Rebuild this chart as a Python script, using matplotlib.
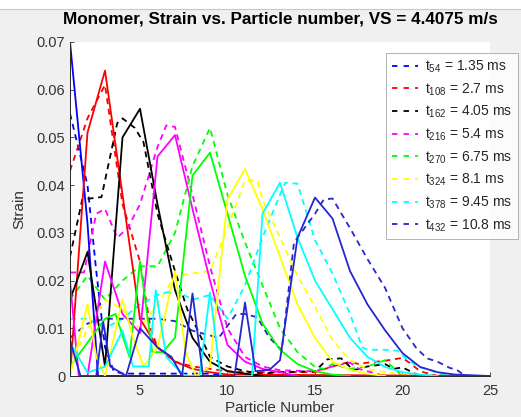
import matplotlib
matplotlib.use('Agg')
import matplotlib.pyplot as plt
from matplotlib.patches import Rectangle
from matplotlib.lines import Line2D

plt.rcParams['font.family'] = ['Liberation Sans', 'DejaVu Sans']
plt.rcParams['mathtext.default'] = 'regular'

# polylines: (particle number, strain)
t54_solid = ([1, 2, 2.6, 4, 25],
             [0.070, 0.032, 0.0, 0.0, 0.0])
t54_dash = ([1, 2, 2.5, 3, 3.5, 4, 9, 10, 25],
            [0.055, 0.040, 0.022, 0.006, 0.001, 0.0005, 0.0005, 0.0, 0.0])

t108_solid = ([1, 2, 3, 4, 5, 6, 7, 8, 9, 10, 25],
              [0.0, 0.051, 0.064, 0.038, 0.012, 0.006, 0.003, 0.0015, 0.0008, 0.0003, 0.0])
t108_dash = ([1, 2, 3, 4, 5, 5.6, 6, 7, 8, 9, 10, 11, 15, 16, 17, 17.5, 18, 19, 20, 20.5, 21, 22],
             [0.043, 0.054, 0.061, 0.036, 0.024, 0.010, 0.006, 0.003, 0.002, 0.0015, 0.001,
              0.0008, 0.0008, 0.002, 0.003, 0.0025, 0.0028, 0.0032, 0.0038, 0.0025, 0.001, 0.0])

t162_solid = ([1, 2, 3, 4, 5, 6, 7, 8, 9, 10, 11, 12],
              [0.016, 0.026, 0.002, 0.050, 0.056, 0.036, 0.018, 0.008, 0.003, 0.001, 0.0005, 0.0])
t162_dash = ([1, 1.7, 2.8, 3.7, 4.0, 4.7, 5.2, 6, 7, 7.7, 8.3, 9, 10, 11, 12, 13, 15, 15.7,
              16.5, 17.2, 18, 19, 19.5, 20, 21],
             [0.025, 0.037, 0.0375, 0.053, 0.054, 0.052, 0.049, 0.034, 0.022, 0.014, 0.0096,
              0.004, 0.002, 0.001, 0.0005, 0.0008, 0.001, 0.0035, 0.0037, 0.0012, 0.002,
              0.0025, 0.0015, 0.0018, 0.0])

t216_solid = ([1, 1.5, 2, 3, 4, 5, 6, 7, 8, 9, 10, 11, 12, 13, 14],
              [0.020, 0.0, 0.0, 0.024, 0.013, 0.009, 0.046, 0.0505, 0.035, 0.020, 0.0065,
               0.003, 0.0015, 0.0008, 0.0])
t216_dash = ([1, 1.8, 2.5, 3, 3.7, 4.3, 5, 6, 6.5, 7, 8, 9, 10, 11, 12, 13, 15, 16, 17,
              17.5, 18, 19],
             [0.0217, 0.0217, 0.034, 0.035, 0.029, 0.031, 0.036, 0.048, 0.0525, 0.0522, 0.038,
              0.023, 0.010, 0.004, 0.002, 0.0012, 0.001, 0.002, 0.0028, 0.0015, 0.001, 0.0])

t270_solid = ([1, 2, 3, 3.6, 4.4, 5, 5.7, 6.3, 7, 8, 9, 10, 11, 12, 13, 14, 15, 16, 17],
              [0.002, 0.007, 0.012, 0.013, 0.004, 0.024, 0.005, 0.005, 0.008, 0.042, 0.0468,
               0.034, 0.021, 0.011, 0.0055, 0.0025, 0.001, 0.0003, 0.0])
t270_dash = ([1, 2, 3, 4, 5, 6, 7, 8, 9, 10, 11, 12, 13, 14, 15, 15.5, 16, 17, 18, 19, 20],
             [0.016, 0.021, 0.016, 0.020, 0.023, 0.023, 0.030, 0.044, 0.052, 0.038, 0.028,
              0.019, 0.010, 0.005, 0.0019, 0.0015, 0.0025, 0.0015, 0.002, 0.0033, 0.0])

t324_solid = ([1, 2, 2.5, 3, 4, 4.6, 5.2, 6, 7, 7.6, 8.2, 9, 10, 11, 12, 13, 14, 15, 16,
               17, 18, 19],
              [0.0, 0.015, 0.004, 0.0, 0.016, 0.008, 0.002, 0.006, 0.022, 0.005, 0.0, 0.002,
               0.037, 0.0434, 0.035, 0.025, 0.015, 0.008, 0.003, 0.0013, 0.0005, 0.0])
t324_dash = ([1, 2, 3, 4, 5, 6, 7, 8, 9, 10, 11, 11.7, 12, 13, 14, 15, 16, 17, 18, 19, 20, 21],
             [0.002, 0.010, 0.016, 0.014, 0.010, 0.015, 0.021, 0.0215, 0.022, 0.031, 0.041,
              0.041, 0.037, 0.029, 0.021, 0.0145, 0.0075, 0.0033, 0.0015, 0.0008, 0.0003, 0.0])

t378_solid = ([1, 2, 3, 4, 4.6, 5.5, 5.9, 6.5, 7, 7.6, 8.4, 9, 9.6, 11.4, 12, 13, 14, 15, 16,
               17, 18, 19, 20, 21, 22],
              [0.007, 0.0007, 0.002, 0.0095, 0.002, 0.002, 0.018, 0.004, 0.002, 0.0, 0.0,
               0.0175, 0.0, 0.0, 0.034, 0.0405, 0.029, 0.020, 0.014, 0.008, 0.004, 0.0019,
               0.0008, 0.0003, 0.0])
t378_dash = ([1, 2, 3, 4, 5, 6, 7, 8, 9, 10, 11, 12, 13, 13.3, 14, 15, 16, 17, 17.7, 18, 19,
              19.7, 20.3, 21, 21.6, 22, 23],
             [0.012, 0.012, 0.010, 0.012, 0.015, 0.017, 0.018, 0.016, 0.017, 0.012, 0.019,
              0.029, 0.038, 0.0405, 0.0403, 0.0285, 0.0215, 0.013, 0.006, 0.0055, 0.0055,
              0.0053, 0.0033, 0.0018, 0.0013, 0.0005, 0.0])

t432_solid = ([1, 1.6, 2.5, 2.9, 3.3, 4, 4.2, 5, 6, 6.8, 7.4, 8, 8.6, 10.4, 11, 11.6, 12.4, 13,
               14, 15, 16, 17, 18, 19, 20, 21, 22, 23, 25],
              [0.0075, 0.0, 0.0, 0.0113, 0.002, 0.0005, 0.0, 0.010, 0.006, 0.004, 0.0, 0.0173,
               0.0, 0.0, 0.0154, 0.001, 0.0013, 0.0033, 0.029, 0.0374, 0.033, 0.022, 0.015,
               0.0096, 0.0048, 0.0019, 0.0008, 0.0003, 0.0])
t432_dash = ([1, 2, 3, 4, 5, 6, 7, 8, 9, 9.5, 10.5, 11, 11.7, 12.4, 13.1, 13.8, 15, 15.5, 16,
              17, 18, 19, 20, 20.8, 21.4, 22, 22.7, 23.1, 23.4],
             [0.008, 0.011, 0.012, 0.012, 0.012, 0.012, 0.0115, 0.0095, 0.0085, 0.008, 0.013,
              0.013, 0.0123, 0.008, 0.0054, 0.028, 0.034, 0.037, 0.0372, 0.031, 0.0245, 0.0185,
              0.010, 0.0058, 0.0037, 0.003, 0.0017, 0.0013, 0.0005])

labels = ['t$_{54}$ = 1.35 ms', 't$_{108}$ = 2.7 ms', 't$_{162}$ = 4.05 ms',
          't$_{216}$ = 5.4 ms', 't$_{270}$ = 6.75 ms', 't$_{324}$ = 8.1 ms',
          't$_{378}$ = 9.45 ms', 't$_{432}$ = 10.8 ms']
colors = ['#0000ff', '#ff0000', '#000000', '#ff00ff', '#00ff00', '#ffff00', '#00ffff',
          '#2626d0']
solids = [t54_solid, t108_solid, t162_solid, t216_solid, t270_solid, t324_solid,
          t378_solid, t432_solid]
dashes = [t54_dash, t108_dash, t162_dash, t216_dash, t270_dash, t324_dash,
          t378_dash, t432_dash]

fig = plt.figure(figsize=(5.21, 4.17), dpi=100, facecolor='#f0f0f0')
# white strip of the window border at the top
fig.patches.append(Rectangle((0, 1 - 9 / 417), 1, 9 / 417, transform=fig.transFigure,
                             facecolor='white', edgecolor='none'))
fig.add_artist(Line2D([0, 1], [1 - 9 / 417, 1 - 9 / 417], transform=fig.transFigure,
                      color='#c8c8c8', lw=0.8))

ax = fig.add_axes([70 / 521, 1 - 376 / 417, 420 / 521, 334 / 417])
ax.set_facecolor('white')

for (dx, dy), c in zip(dashes, colors):
    ax.plot(dx, dy, color=c, lw=1.3, dashes=(3.3, 2.6))
for (sx, sy), c in zip(solids, colors):
    ax.plot(sx, sy, color=c, lw=1.3)

# legend samples: two dashes each, like the original
handles = [Line2D([], [], color=c, lw=1.3, dashes=(3.0, 3.4)) for c in colors]

ax.set_xlim(1, 25)
ax.set_ylim(0, 0.07)
ax.set_xticks([5, 10, 15, 20, 25])
ax.set_yticks([0, 0.01, 0.02, 0.03, 0.04, 0.05, 0.06, 0.07])
ax.set_yticklabels(['0', '0.01', '0.02', '0.03', '0.04', '0.05', '0.06', '0.07'])
ax.tick_params(direction='in', length=3, width=0.6, colors='#333333', labelsize=10.5)
ax.tick_params(axis='x', pad=6)
for s in ['top', 'right']:
    ax.spines[s].set_visible(False)
for s in ['left', 'bottom']:
    ax.spines[s].set_color('#262626')
    ax.spines[s].set_linewidth(0.7)

ax.set_xlabel('Particle Number', fontsize=11, color='#333333')
ax.xaxis.set_label_coords(0.5, -0.076)
ax.set_ylabel('Strain', fontsize=11, color='#333333')
ax.yaxis.set_label_coords(-0.105, 0.5)

fig.text(280 / 521, 1 - 19 / 417, 'Monomer, Strain vs. Particle number, VS = 4.4075 m/s',
         ha='center', va='center', fontsize=12.3, fontweight='bold')

leg = fig.legend(handles=handles, labels=labels, loc='upper right',
                 bbox_to_anchor=(518 / 521, 1 - 53 / 417),
                 fontsize=10, frameon=True, fancybox=False, handlelength=1.9,
                 handletextpad=0.5, labelspacing=0.45, borderpad=0.4, borderaxespad=0)
leg.get_frame().set_edgecolor('#a0a0a0')
leg.get_frame().set_linewidth(0.7)
for t in leg.get_texts():
    t.set_color('#262626')

fig.savefig('out.png', dpi=100, facecolor=fig.get_facecolor())
